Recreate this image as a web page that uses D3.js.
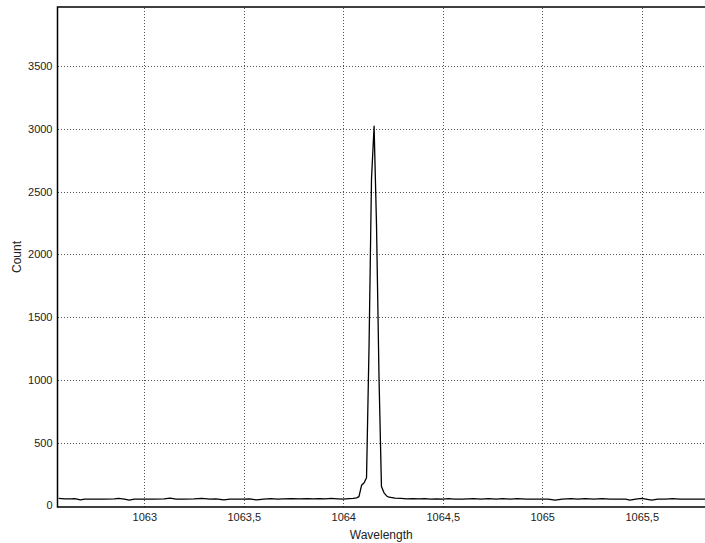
<!DOCTYPE html>
<html>
<head>
<meta charset="utf-8">
<script src="https://d3js.org/d3.v7.min.js"></script>
<style>
  body { margin: 0; background: #fff; font-family: "Liberation Sans", Arial, sans-serif; }
  .grid line { stroke: #555; stroke-width: 1; stroke-dasharray: 1.5,1.5; shape-rendering: crispEdges; }
  .tick text { font-size: 11px; fill: #222; }
</style>
</head>
<body>
<script>
// spectrum
var wavelength = [
  1062.57, 1062.60, 1062.63, 1062.65, 1062.68, 1062.70, 1062.75, 1062.80, 1062.85, 1062.87,
  1062.90, 1062.925, 1062.95, 1063.00, 1063.05, 1063.10, 1063.13, 1063.16, 1063.20, 1063.25,
  1063.29, 1063.33, 1063.36, 1063.40, 1063.43, 1063.47, 1063.50, 1063.53, 1063.565, 1063.60,
  1063.635, 1063.67, 1063.70, 1063.74, 1063.78, 1063.82, 1063.85, 1063.88, 1063.91, 1063.94,
  1063.97, 1064.00, 1064.03, 1064.05,
  1064.067, 1064.079, 1064.092, 1064.105, 1064.117, 1064.130, 1064.142, 1064.155, 1064.167,
  1064.180, 1064.192, 1064.205, 1064.218, 1064.230,
  1064.26, 1064.29, 1064.32, 1064.35, 1064.38, 1064.41, 1064.44, 1064.47, 1064.50, 1064.53,
  1064.56, 1064.60, 1064.655, 1064.69, 1064.73, 1064.77, 1064.80, 1064.84, 1064.875, 1064.92,
  1064.96, 1065.00, 1065.03, 1065.065, 1065.10, 1065.145, 1065.18, 1065.215, 1065.26, 1065.30,
  1065.34, 1065.38, 1065.42, 1065.44, 1065.47, 1065.50, 1065.55, 1065.58, 1065.62, 1065.655,
  1065.69, 1065.73, 1065.77, 1065.82
];
var counts = [
  55, 52, 51, 54, 44, 50, 50, 50, 51, 56,
  50, 42, 50, 50, 50, 51, 57, 50, 50, 51,
  55, 50, 51, 43, 50, 50, 50, 51, 43, 50,
  54, 50, 51, 53, 51, 54, 51, 54, 52, 55,
  52, 50, 53, 55,
  60, 70, 160, 180, 220, 1300, 2600, 3020, 2250,
  1000, 150, 100, 75, 65,
  58, 55, 52, 54, 51, 53, 50, 52, 50, 53,
  50, 50, 54, 50, 54, 50, 54, 50, 54, 50,
  50, 50, 50, 41, 50, 54, 50, 54, 50, 54,
  50, 50, 49, 42, 50, 55, 42, 50, 50, 54,
  50, 50, 50, 50
];
var xTicks = [1063, 1063.5, 1064, 1064.5, 1065, 1065.5];
var yTicks = [0, 500, 1000, 1500, 2000, 2500, 3000, 3500];

var width = 705, height = 543;
var plotL = 57.5, plotT = 7, plotR = 705, plotB = 507;

var fmt = function(v){ return String(v).replace(".", ","); };

var x = d3.scaleLinear().domain([1062.564, 1065.818]).range([plotL, plotR]);
var y = d3.scaleLinear().domain([-13, 3970]).range([plotB, plotT]);

var svg = d3.select("body").append("svg")
    .attr("width", width)
    .attr("height", height);

// grid
svg.append("g")
    .attr("class", "grid")
    .attr("transform", "translate(0," + plotB + ")")
    .call(d3.axisBottom(x).tickValues(xTicks).tickSize(-(plotB - plotT)).tickFormat(""))
    .call(function(g){ g.select(".domain").remove(); });

svg.append("g")
    .attr("class", "grid")
    .attr("transform", "translate(" + plotL + ",0)")
    .call(d3.axisLeft(y).tickValues(yTicks.slice(1)).tickSize(-(plotR - plotL)).tickFormat(""))
    .call(function(g){ g.select(".domain").remove(); });

// spectrum line
var pts = wavelength.map(function(w, i){ return [w, counts[i]]; });
svg.append("path")
    .datum(pts)
    .attr("fill", "none")
    .attr("stroke", "#000")
    .attr("stroke-width", 1.3)
    .attr("stroke-linejoin", "round")
    .attr("d", d3.line().x(function(d){ return x(d[0]); }).y(function(d){ return y(d[1]); }));

// axes
var xAxis = svg.append("g")
    .attr("transform", "translate(0," + plotB + ")")
    .call(d3.axisBottom(x).tickValues(xTicks).tickSize(0).tickPadding(6).tickFormat(fmt));
xAxis.select(".domain").remove();

var yAxis = svg.append("g")
    .attr("transform", "translate(" + plotL + ",0)")
    .call(d3.axisLeft(y).tickValues(yTicks).tickSize(0).tickPadding(5).tickFormat(fmt));
yAxis.select(".domain").remove();

// frame: left, top, bottom
svg.append("path")
    .attr("fill", "none")
    .attr("stroke", "#000")
    .attr("stroke-width", 1.5)
    .attr("d", "M" + plotR + "," + plotT + "H" + plotL + "V" + plotB + "H" + plotR);

svg.append("text")
    .attr("x", (plotL + plotR) / 2)
    .attr("y", 539)
    .attr("text-anchor", "middle")
    .attr("font-size", 12)
    .attr("fill", "#222")
    .text("Wavelength");

svg.append("text")
    .attr("transform", "translate(21," + ((plotT + plotB) / 2) + ") rotate(-90)")
    .attr("text-anchor", "middle")
    .attr("font-size", 12)
    .attr("fill", "#222")
    .text("Count");
</script>
</body>
</html>
